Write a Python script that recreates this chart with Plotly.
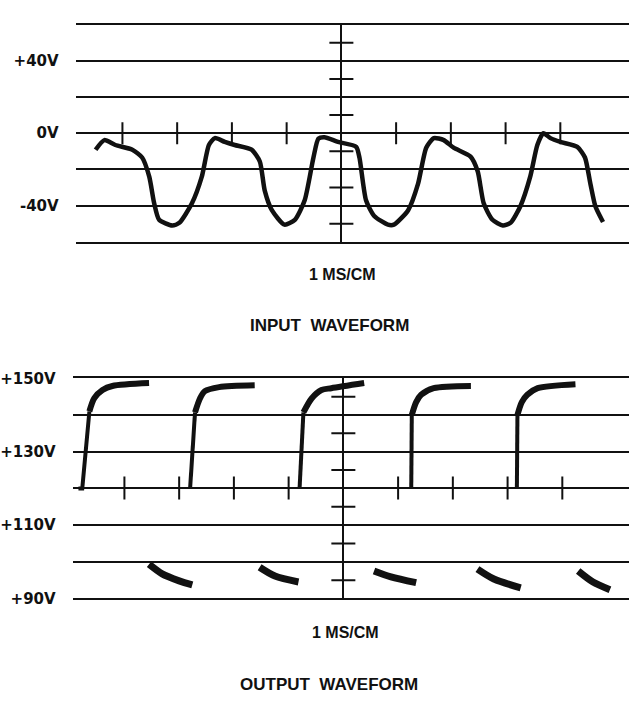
import plotly.graph_objects as go

# ---------------- data ----------------
# Input waveform (time in ms, voltage in V)
in_t = [-4.49, -4.33, -4.13, -3.82, -3.64, -3.51, -3.42, -3.33, -3.09, -2.96, -2.73, -2.55,
        -2.42, -2.31, -2.13, -1.95, -1.64, -1.49, -1.40, -1.27, -1.04, -0.85, -0.67, -0.51,
        -0.42, -0.31, -0.06, 0.27, 0.33, 0.45, 0.60, 0.85, 0.96, 1.22, 1.40, 1.55, 1.69,
        1.87, 2.05, 2.36, 2.49, 2.60, 2.76, 2.95, 3.09, 3.27, 3.45, 3.58, 3.69, 3.82, 4.00,
        4.31, 4.45, 4.55, 4.64, 4.78]
in_v = [-9.1, -3.8, -6.5, -9.1, -13.4, -24.0, -38.7, -47.8, -51.0, -49.5, -38.7, -24.0,
        -6.5, -2.7, -4.8, -6.5, -9.1, -15.6, -31.7, -42.5, -50.5, -47.8, -37.0, -13.4,
        -3.0, -2.2, -4.8, -7.5, -13.4, -37.0, -45.7, -50.5, -50.5, -42.5, -28.0, -8.0, -2.7,
        -3.8, -8.0, -12.9, -21.0, -38.7, -47.8, -51.0, -49.5, -40.3, -24.0, -6.5, 0.0, -2.7, -4.8,
        -7.5, -13.4, -28.0, -40.3, -49.0]

# Output waveform: rising edges (thin), flat tops (thick), low decays (thick)
rise_t = [[-4.84, -4.77, -4.64], [-2.80, -2.71], [-0.80, -0.73], [1.24, 1.25], [3.17, 3.18]]
rise_v = [[120, 120, 141.0], [120, 140.7], [120, 140.7], [120, 140.0], [120, 140.0]]
top_t = [[-4.64, -4.55, -4.40, -4.22, -3.55],
         [-2.71, -2.62, -2.53, -2.27, -1.62],
         [-0.73, -0.58, -0.40, -0.22, 0.38],
         [1.25, 1.33, 1.42, 1.65, 2.33],
         [3.18, 3.26, 3.36, 3.55, 4.24]]
top_v = [[141.0, 144.6, 146.8, 147.9, 148.7],
         [140.7, 144.5, 146.5, 147.6, 148.1],
         [140.7, 144.5, 146.8, 147.3, 148.7],
         [140.0, 143.5, 145.5, 147.3, 147.9],
         [140.0, 143.5, 145.5, 147.3, 148.4]]
low_t = [[-3.55, -3.31, -3.00, -2.76],
         [-1.53, -1.25, -0.82],
         [0.56, 0.87, 1.33],
         [2.45, 2.75, 3.24],
         [4.29, 4.56, 4.87]]
low_v = [[99.3, 96.7, 94.8, 93.7],
         [98.5, 96.1, 94.5],
         [97.5, 95.9, 94.3],
         [98.0, 95.3, 92.9],
         [97.5, 94.5, 92.4]]

# Graticule
in_grid_vals = [-60, -40, -20, 0, 20, 40, 60]
in_grid_text = ["", "-40V", "", "0V", "", "+40V", ""]
out_grid_vals = [90, 100, 110, 120, 130, 140, 150]
out_grid_text = ["+90V", "", "+110V", "", "+130V", "", "+150V"]
time_ticks = [-4, -3, -2, -1, 1, 2, 3, 4]
in_minor = [-50, -30, -10, 10, 30, 50]
out_minor = [95, 105, 115, 125, 135, 145]

# ---------------- figure ----------------
W, H = 629, 702
BLACK = "#111111"
FONT = "Liberation Sans"
TICKFONT = "DejaVu Sans"

fig = go.Figure()

fig.add_trace(go.Scatter(x=in_t, y=in_v, mode="lines", xaxis="x", yaxis="y",
                         line=dict(color=BLACK, width=4.5, shape="spline", smoothing=0.6),
                         hoverinfo="skip", showlegend=False))

for t, v in zip(rise_t, rise_v):
    fig.add_trace(go.Scatter(x=t, y=v, mode="lines", xaxis="x2", yaxis="y2",
                             line=dict(color=BLACK, width=4),
                             hoverinfo="skip", showlegend=False))
for t, v in zip(top_t, top_v):
    fig.add_trace(go.Scatter(x=t, y=v, mode="lines", xaxis="x2", yaxis="y2",
                             line=dict(color=BLACK, width=6, shape="spline", smoothing=0.8),
                             hoverinfo="skip", showlegend=False))
for t, v in zip(low_t, low_v):
    fig.add_trace(go.Scatter(x=t, y=v, mode="lines", xaxis="x2", yaxis="y2",
                             line=dict(color=BLACK, width=7, shape="spline", smoothing=0.8),
                             hoverinfo="skip", showlegend=False))

shapes = []
# tick marks on middle horizontal line (pixel-sized)
for tt in time_ticks:
    shapes.append(dict(type="line", xref="x", yref="y", ysizemode="pixel", yanchor=0,
                       x0=tt, x1=tt, y0=-11, y1=11, line=dict(color=BLACK, width=2)))
    shapes.append(dict(type="line", xref="x2", yref="y2", ysizemode="pixel", yanchor=120,
                       x0=tt, x1=tt, y0=-11, y1=12, line=dict(color=BLACK, width=2)))
# minor ticks on central vertical axis
for mv in in_minor:
    shapes.append(dict(type="line", xref="x", yref="y", xsizemode="pixel", xanchor=0,
                       x0=-12, x1=12, y0=mv, y1=mv, line=dict(color=BLACK, width=2)))
for mv in out_minor:
    shapes.append(dict(type="line", xref="x2", yref="y2", xsizemode="pixel", xanchor=0,
                       x0=-12, x1=12, y0=mv, y1=mv, line=dict(color=BLACK, width=2)))

def ydom(top_px, bot_px):
    return [1 - bot_px / H, 1 - top_px / H]

axis_common = dict(showgrid=False, zeroline=True, zerolinecolor=BLACK, zerolinewidth=2,
                   showline=True, linecolor=BLACK, linewidth=2, mirror=True,
                   showticklabels=False, ticks="", fixedrange=True)
yaxis_common = dict(showgrid=True, gridcolor=BLACK, gridwidth=2, zeroline=False,
                    showline=False, ticks="", ticklabelstandoff=16,
                    tickfont=dict(family=TICKFONT, size=15, color=BLACK, weight="bold"),
                    fixedrange=True)

def label(text, xpx, ypx, size):
    return dict(text=text, x=xpx / W, y=1 - ypx / H, xref="paper", yref="paper",
                xanchor="center", yanchor="middle", showarrow=False,
                font=dict(family=FONT, size=size, color=BLACK, weight="bold"))

fig.update_layout(
    width=W, height=H,
    margin=dict(l=0, r=0, t=0, b=0),
    paper_bgcolor="white", plot_bgcolor="white",
    xaxis=dict(domain=[73 / W, 1], range=[(73 - 340) / 55, (629 - 340) / 55],
               anchor="y", **axis_common),
    yaxis=dict(domain=ydom(16, 239), range=[-60, 60], anchor="x",
               tickvals=in_grid_vals, ticktext=in_grid_text, **yaxis_common),
    xaxis2=dict(domain=[70 / W, 1], range=[(70 - 342) / 55, (629 - 342) / 55],
                anchor="y2", **axis_common),
    yaxis2=dict(domain=ydom(379, 605), range=[90, 150], anchor="x2",
                tickvals=out_grid_vals, ticktext=out_grid_text, **yaxis_common),
    shapes=shapes,
    annotations=[
        label("1 MS/CM", 341, 273, 16),
        label("INPUT  WAVEFORM", 328, 325, 17),
        label("1 MS/CM", 344, 640, 16),
        label("OUTPUT  WAVEFORM", 328, 693, 17),
    ],
)

fig.write_html("out.html", post_script="document.body.style.margin='0';",
               config={"displayModeBar": False})
